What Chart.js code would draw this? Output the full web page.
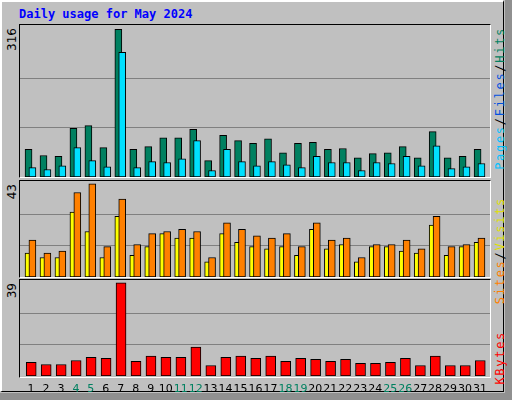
<!DOCTYPE html>
<html><head><meta charset="utf-8">
<script src="https://cdn.jsdelivr.net/npm/chart.js@4/dist/chart.umd.min.js"></script>
<style>
html,body{margin:0;padding:0;}
body{width:512px;height:400px;background:#c0c0c0;position:relative;overflow:hidden;font-family:"DejaVu Sans",sans-serif;}
#frame{position:absolute;left:0;top:0;width:504px;height:392px;border-left:2px solid #fff;border-top:2px solid #fff;border-right:1px solid #000;border-bottom:1px solid #000;box-sizing:border-box;}
#shR{position:absolute;left:505px;top:0;width:7px;height:400px;background:#909090;}
#shB{position:absolute;left:0;top:393px;width:512px;height:7px;background:#909090;}
#title{position:absolute;left:19px;top:7px;font:bold 12px "DejaVu Sans Mono",monospace;color:#0000ff;}
.panel{position:absolute;left:19px;width:472px;border-top:1px solid #000;border-left:1px solid #000;border-right:1px solid #fff;border-bottom:1px solid #fff;box-sizing:border-box;}
.vt{position:absolute;writing-mode:vertical-rl;transform:rotate(180deg);white-space:nowrap;}
.mx{font:12px "DejaVu Sans",sans-serif;color:#000;left:5px;}
.lg{font:12px "DejaVu Sans Mono",monospace;left:493px;letter-spacing:1.7px;}
canvas{position:absolute;}
</style></head><body>
<div id="frame"></div><div id="shR"></div><div id="shB"></div>
<div id="title">Daily usage for May 2024</div>
<div class="panel" style="top:24px;height:154px"></div>
<div class="panel" style="top:180px;height:98px"></div>
<div class="panel" style="top:279px;height:99px"></div>
<div class="vt mx" style="top:28px">316</div>
<div class="vt mx" style="top:184px">43</div>
<div class="vt mx" style="top:283px">39</div>
<div class="vt lg" style="top:27px"><span style="color:#00c0ff">Pages</span><span style="color:#000">/</span><span style="color:#0050e0">Files</span><span style="color:#000">/</span><span style="color:#008060">Hits</span></div>
<div class="vt lg" style="top:197px"><span style="color:#ff8000">Sites</span><span style="color:#000">/</span><span style="color:#e0e000">Visits</span></div>
<div class="vt lg" style="top:331px"><span style="color:#ff0000">KBytes</span></div>
<div style="position:absolute;left:20px;top:25px;width:470px;height:152px"><canvas id="c1"></canvas></div>
<div style="position:absolute;left:20px;top:181px;width:470px;height:96px"><canvas id="c2"></canvas></div>
<div style="position:absolute;left:20px;top:280px;width:470px;height:120px"><canvas id="c3"></canvas></div>
<script>
const days=[1,2,3,4,5,6,7,8,9,10,11,12,13,14,15,16,17,18,19,20,21,22,23,24,25,26,27,28,29,30,31];
const weekend=[4,5,11,12,18,19,25,26];
const hits=[59,46,44,104,110,63,316,59,65,84,84,102,35,89,78,72,82,52,72,74,59,61,41,50,52,65,41,97,41,44,59];
const files=[20,16,24,63,35,22,267,20,33,31,39,78,14,59,33,24,33,26,20,44,31,31,14,31,29,44,24,67,18,22,29];
const sites=[11,9,9,30,21,9,28,10,14,20,18,18,7,20,16,14,13,14,10,22,13,15,7,14,14,12,11,24,10,14,16];
const visits=[17,11,12,39,43,14,36,15,20,21,22,21,9,25,22,19,18,20,14,25,17,18,9,15,15,17,13,28,14,15,18];
const kbytes=[5.7,4.8,4.8,6.5,7.8,7.4,39,6.1,8.3,7.8,7.8,12.1,4.4,7.8,8.3,7.4,8.3,6.1,7.4,7.0,6.1,7.0,5.3,5.3,5.7,7.4,4.4,8.3,4.4,4.4,6.5];
const hitsMax=316, visitsMax=43, kbMax=39;

function pts(vals,off){return vals.map((v,i)=>({x:days[i]+off,y:v}));}
function ds(vals,off,color,w,order){return {data:pts(vals,off),backgroundColor:color,borderColor:'#000',borderWidth:1,barThickness:w,order:order,grouped:false,borderSkipped:false};}
function opts(max,padB){
  return {responsive:true,maintainAspectRatio:false,animation:false,
    layout:{padding:{left:0,right:0,top:0,bottom:padB}},
    plugins:{legend:{display:false},tooltip:{enabled:false}},
    scales:{
      x:{type:'linear',min:0.3,max:31.7,offset:false,display:false},
      y:{min:0,max:max*1.03,display:true,border:{display:false},
        ticks:{display:false},
        afterBuildTicks:s=>{s.ticks=[{value:max/3},{value:2*max/3}];},
        grid:{color:'#808080',lineWidth:1,drawTicks:false}}
    }};
}
new Chart(document.getElementById('c1'),{type:'bar',data:{datasets:[ds(hits,-0.13,'#008060',7,2),ds(files,0.13,'#00e0ff',7,1)]},options:opts(hitsMax,0)});
new Chart(document.getElementById('c2'),{type:'bar',data:{datasets:[ds(sites,-0.13,'#ffff00',7,2),ds(visits,0.13,'#ff8000',7,1)]},options:opts(visitsMax,0)});
const labelPlugin={id:'dl',afterDraw(ch){const c=ch.ctx,xs=ch.scales.x;c.save();c.font='11px "DejaVu Sans",sans-serif';c.textAlign='center';c.textBaseline='middle';
  days.forEach(d=>{c.fillStyle=weekend.includes(d)?'#008060':'#000';c.fillText(String(d),xs.getPixelForValue(d)+0.5,ch.chartArea.bottom+13);});c.restore();}};
new Chart(document.getElementById('c3'),{type:'bar',data:{datasets:[ds(kbytes,0.05,'#ff0000',10,1)]},options:opts(kbMax,24),plugins:[labelPlugin]});
</script></body></html>
